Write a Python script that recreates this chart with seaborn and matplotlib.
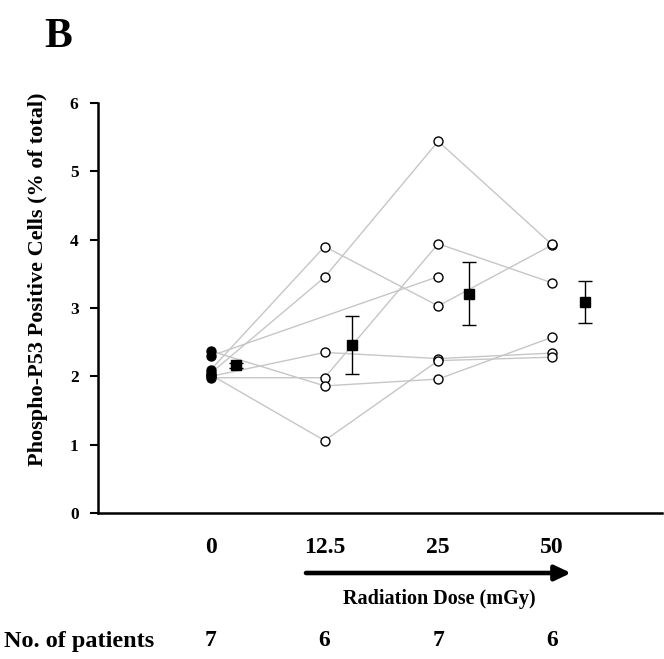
import numpy as np
import pandas as pd
import matplotlib
matplotlib.use("Agg")
import matplotlib.pyplot as plt
from matplotlib.patches import FancyArrowPatch
import seaborn as sns

# ---- data ----
doses = ["0", "12.5", "25", "50"]
patient_counts = ["7", "6", "7", "6"]
p1 = [2.10, 3.90, 3.03, 3.92]
p2 = [2.05, 3.45, 5.44, 3.93]
p3 = [2.30, np.nan, 3.46, np.nan]
p4 = [2.00, 2.35, 2.26, 2.34]
p5 = [1.98, 1.98, 3.94, 3.37]
p6 = [2.37, 1.86, 1.96, 2.57]
p7 = [2.02, 1.06, 2.23, 2.28]
patients = [p1, p2, p3, p4, p5, p6, p7]
mean_vals = [2.16, 2.46, 3.21, 3.09]
sem_vals = [0.04, 0.43, 0.46, 0.31]

sns.set_theme(style="white")
plt.rcParams['font.family'] = ['Liberation Serif', 'DejaVu Serif']
plt.rcParams['font.weight'] = 'bold'
for k in ["text.color", "axes.labelcolor", "xtick.color", "ytick.color", "axes.edgecolor"]:
    plt.rcParams[k] = "black"

rows = []
for i, p in enumerate(patients):
    for j, v in enumerate(p):
        rows.append({"patient": f"P{i+1}", "pos": j, "val": v})
df = pd.DataFrame(rows).dropna()

fig = plt.figure(figsize=(6.64, 6.59), dpi=100)
ax = fig.add_axes([98/664, 1-513/659, 564/664, 410/659])

sns.lineplot(data=df, x="pos", y="val", units="patient", estimator=None,
             color="#c6c6c6", lw=1.0, ax=ax, legend=False, zorder=1)
d0 = df[df.pos == 0]
dn = df[df.pos > 0]
sns.scatterplot(data=dn, x="pos", y="val", marker="o", s=42, facecolor="white",
                edgecolor="black", linewidth=1.0, ax=ax, zorder=3, legend=False)
sns.scatterplot(data=d0, x="pos", y="val", marker="o", s=42, color="black",
                edgecolor="black", linewidth=1.0, ax=ax, zorder=3, legend=False)

mpos = np.arange(len(doses)) + 0.22 + 0.025*np.arange(len(doses))
ax.errorbar(mpos, mean_vals, yerr=sem_vals, fmt="s", color="black", ms=6.5,
            elinewidth=1.0, capsize=5, capthick=1.0, zorder=4)

ax.set_xlim(-0.995, 3.97)
ax.set_ylim(0, 6)
ax.set_yticks(range(0, 7))
ax.set_yticklabels([str(i) for i in range(7)], fontsize=12.5, fontweight="bold")
ax.set_xticks(range(len(doses)))
ax.set_xticklabels(doses, fontsize=17, fontweight="bold")
ax.tick_params(axis="x", length=0, pad=17)
ax.tick_params(axis="y", length=6, width=1.5, direction="out", pad=8, left=True)
ax.set_xlabel("")
ax.set_ylabel("")
for s in ["top", "right"]:
    ax.spines[s].set_visible(False)
for s in ["left", "bottom"]:
    ax.spines[s].set_linewidth(1.8)
    ax.spines[s].set_color("black")

fig.text(38/664, 1-279/659, "Phospho-P53 Positive Cells (% of total)", rotation=90,
         ha="center", va="center", fontsize=16, fontweight="bold")
fig.text(58/664, 1-37/659, "B", ha="center", va="center", fontsize=30, fontweight="bold")

arrow = FancyArrowPatch((306, 86), (571, 86), transform=None,
                        arrowstyle="-|>,head_length=0.95,head_width=0.45",
                        mutation_scale=10, color="black", lw=3.3, shrinkA=0, shrinkB=0)
fig.patches.append(arrow)
fig.text(439/664, 1-599/659, "Radiation Dose (mGy)", ha="center", va="center",
         fontsize=14.5, fontweight="bold")
fig.text(4/664, 1-641/659, "No. of patients", ha="left", va="center",
         fontsize=17.5, fontweight="bold")
for j, c in enumerate(patient_counts):
    ax.text(j, -1.87, c, ha="center", va="center", fontsize=17, fontweight="bold",
            clip_on=False)

fig.savefig("out.png", dpi=100)
